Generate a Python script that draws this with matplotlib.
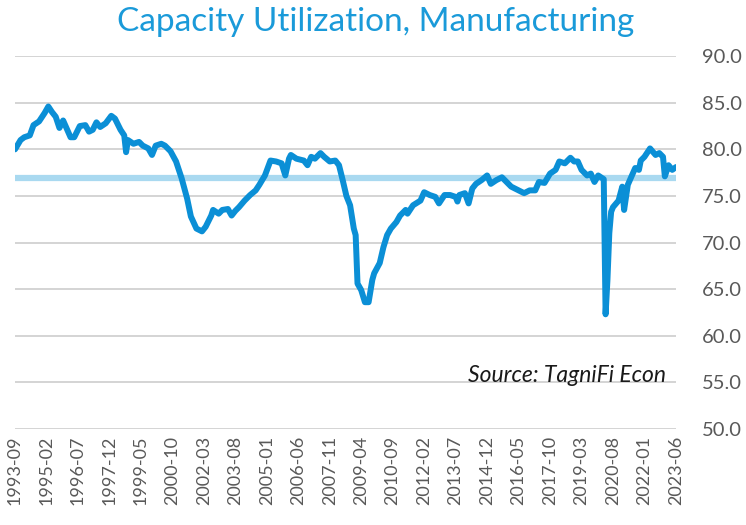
import matplotlib
matplotlib.use("Agg")
import matplotlib.pyplot as plt
import numpy as np

# months since 1993-09 and capacity utilization (%)
month_idx = [0, 3, 5, 8, 10, 13, 16, 18, 20, 22, 24, 26, 28, 30, 32, 35, 38, 40, 42, 44,
             46, 49, 52, 54, 57, 59, 60, 61, 64, 67, 69, 72, 74, 76, 79, 81, 84, 87, 90, 93,
             95, 98, 101, 103, 106, 107, 110, 112, 115, 117, 119, 121, 124, 127, 130, 132, 135, 138, 141, 144,
             146, 148, 149, 152, 156, 158, 160, 162, 165, 167, 170, 173, 175, 177, 179, 181, 183, 184, 185, 187,
             189, 191, 193, 194, 197, 199, 201, 203, 206, 208, 211, 212, 215, 219, 221, 224, 227, 229, 232, 235,
             238, 239, 240, 243, 245, 247, 249, 252, 255, 257, 260, 263, 266, 268, 272, 275, 278, 281, 283, 286,
             289, 292, 294, 297, 300, 302, 304, 306, 309, 311, 313, 315, 318, 319, 320, 321, 322, 323, 326, 328,
             329, 331, 333, 335, 337, 338, 340, 343, 346, 348, 350, 351, 353, 355, 357]
values = [80.0, 81.0, 81.3, 81.5, 82.6, 83.0, 83.9, 84.6, 84.0, 83.5, 82.3, 83.1, 82.2, 81.3, 81.3, 82.5, 82.6, 81.9, 82.1, 82.9,
          82.4, 82.8, 83.6, 83.3, 82.1, 81.5, 79.7, 81.0, 80.6, 80.8, 80.4, 80.1, 79.4, 80.4, 80.6, 80.4, 79.8, 78.7, 76.9, 74.7,
          72.8, 71.5, 71.2, 71.7, 72.9, 73.5, 73.1, 73.5, 73.6, 72.9, 73.4, 73.8, 74.5, 75.1, 75.6, 76.2, 77.2, 78.8, 78.7, 78.5,
          77.2, 79.0, 79.4, 79.0, 78.8, 78.3, 79.2, 79.0, 79.6, 79.2, 78.7, 78.8, 78.3, 76.7, 75.0, 74.0, 71.5, 70.8, 65.6, 64.9,
          63.6, 63.6, 66.0, 66.7, 67.8, 69.5, 70.8, 71.5, 72.2, 72.9, 73.5, 73.1, 74.0, 74.5, 75.4, 75.1, 74.9, 74.2, 75.1, 75.1,
          74.9, 74.4, 75.1, 75.3, 74.2, 75.8, 76.3, 76.7, 77.2, 76.3, 76.7, 77.0, 76.4, 76.0, 75.6, 75.3, 75.6, 75.6, 76.5, 76.4,
          77.4, 77.8, 78.7, 78.5, 79.1, 78.7, 78.7, 77.8, 77.2, 77.4, 76.5, 77.2, 76.8, 62.3, 66.0, 71.0, 73.3, 73.8, 74.5, 76.0,
          73.5, 76.2, 77.1, 78.0, 77.8, 78.8, 79.2, 80.1, 79.4, 79.6, 79.2, 77.1, 78.3, 77.8, 78.1]
average = 76.9

tick_labels = ["1993-09", "1995-02", "1996-07", "1997-12", "1999-05", "2000-10", "2002-03", "2003-08",
               "2005-01", "2006-06", "2007-11", "2009-04", "2010-09", "2012-02", "2013-07", "2014-12",
               "2016-05", "2017-10", "2019-03", "2020-08", "2022-01", "2023-06"]
n_months = 358

blue = "#0b8fd6"
gray_text = "#595959"

fig = plt.figure(figsize=(7.46, 5.25), dpi=100)
ax = fig.add_axes([0.0201, 0.183, 0.8860, 0.710])

ax.axhline(average, color="#a9d9f0", lw=4.5, zorder=2)
ax.plot(month_idx, values, color=blue, lw=4.3, solid_joinstyle="round", solid_capstyle="round", zorder=3)

ax.set_xlim(0, n_months - 1)
ax.set_ylim(50, 90)
ax.set_yticks(np.arange(50, 91, 5))
ax.set_yticklabels([f"{v:.1f}" for v in np.arange(50, 91, 5)])
ax.yaxis.tick_right()
ax.set_xticks(np.arange(0, n_months, 17))
ax.set_xticklabels(tick_labels, rotation=90)
ax.grid(axis="y", color="#d4d4d4", lw=1.4)
ax.set_axisbelow(True)
for s in ax.spines.values():
    s.set_visible(False)
ax.tick_params(axis="both", length=0, colors=gray_text)
ax.tick_params(axis="y", labelsize=14.5, pad=19)
ax.tick_params(axis="x", labelsize=13, pad=5)
for lab in ax.get_yticklabels():
    lab.set_family("Lato")
for lab in ax.get_xticklabels():
    lab.set_family("Lato")

fig.text(0.504, 0.958, "Capacity Utilization, Manufacturing", ha="center", va="center",
         fontsize=24, color="#1a9ad9", family="Lato")
ax.text(0.985, 0.142, "Source: TagniFi Econ", transform=ax.transAxes, ha="right", va="center",
        fontsize=16.5, style="italic", color="#1a1a1a", family="Lato")

fig.savefig("out.png", dpi=100)
